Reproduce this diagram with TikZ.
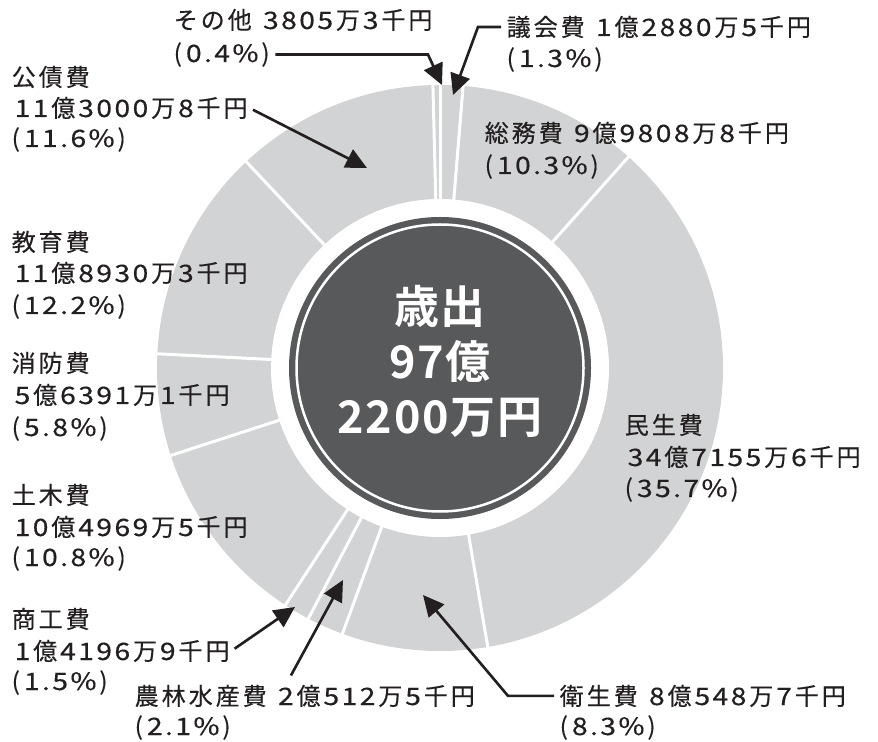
\documentclass[tikz,border=0pt]{standalone}
\usepackage{fontspec}
\usetikzlibrary{arrows.meta}
\newfontfamily\jpfont[LetterSpace=12.5, FakeBold=0.4]{Noto Sans CJK JP}
\newfontfamily\jpbold[LetterSpace=4]{Noto Sans CJK JP Bold}
\newfontfamily\numfont[LetterSpace=10, FakeStretch=1.18, FakeBold=0.4]{Noto Sans CJK JP}
\newcommand{\dg}[1]{\kern0.12em{\numfont#1}\kern0.12em}
\newcommand{\pct}[1]{(\hspace{0.05em}\dg{#1\%})}
\definecolor{ringgray}{HTML}{D1D3D4}
\definecolor{coredark}{HTML}{58595B}
\definecolor{ink}{HTML}{231F20}
\tikzset{
  lbl/.style={anchor=base west, inner sep=0pt, outer sep=1pt, text=ink,
    font=\jpfont\fontsize{13.66pt}{17pt}\selectfont},
  arr/.style={draw=ink, line width=1.5pt, shorten <=0.08cm,
    -{Triangle[length=0.42cm,width=0.4cm]}},
  sepline/.style={draw=white, line width=0.06cm},
}

\begin{document}
\begin{tikzpicture}[x=0.02cm, y=-0.02cm]
  \useasboundingbox (0,0) rectangle (878,742);
  % ring and separators
  \fill[ringgray] (440,368) circle (283);
  \fill[white] (440,368) circle (169);
  \foreach \p in {0, 1.3, 11.6, 47.3, 55.6, 57.7, 59.2, 70, 75.8, 88, 99.6}
    \draw[sepline, shift={(440,368)}] ({-90+3.6*\p}:166) -- ({-90+3.6*\p}:286);
  % centre
  \fill[coredark] (440,368) circle (151);
  \draw[white, line width=0.05cm] (440,368) circle (143.5);
  \node[align=center, text=white, inner sep=0pt,
    font=\jpbold\fontsize{25.6pt}{31.3pt}\selectfont]
    (total) at (440,361) {歳出\\97億\\2200万円};
  % labels
  \node[lbl] (sonota1) at (172,29) {その他 \dg{3805}万\dg{3}千円};
  \node[lbl] (sonota2) at (172,62) {\pct{0.4}};
  \node[lbl] (gikai1) at (505,36) {議会費 \dg{1}億\dg{2880}万\dg{5}千円};
  \node[lbl] (gikai2) at (505,67) {\pct{1.3}};
  \node[lbl] (somu1) at (483,142) {総務費 \dg{9}億\dg{9808}万\dg{8}千円};
  \node[lbl] (somu2) at (483,174) {\pct{10.3}};
  \node[lbl] (minsei1) at (623,434) {民生費};
  \node[lbl] (minsei2) at (623,466) {\dg{34}億\dg{7155}万\dg{6}千円};
  \node[lbl] (minsei3) at (623,497) {\pct{35.7}};
  \node[lbl] (eisei1) at (558,705) {衛生費 \dg{8}億\dg{548}万\dg{7}千円};
  \node[lbl] (eisei2) at (558,735) {\pct{8.3}};
  \node[lbl] (nourin1) at (133,705) {農林水産費 \dg{2}億\dg{512}万\dg{5}千円};
  \node[lbl] (nourin2) at (133,735) {\pct{2.1}};
  \node[lbl] (kosai1) at (10,86) {公債費};
  \node[lbl] (kosai2) at (10,117) {\dg{11}億\dg{3000}万\dg{8}千円};
  \node[lbl] (kosai3) at (10,147) {\pct{11.6}};
  \node[lbl] (kyoiku1) at (10,251) {教育費};
  \node[lbl] (kyoiku2) at (10,282) {\dg{11}億\dg{8930}万\dg{3}千円};
  \node[lbl] (kyoiku3) at (10,314) {\pct{12.2}};
  \node[lbl] (shobo1) at (10,372) {消防費};
  \node[lbl] (shobo2) at (10,404) {\dg{5}億\dg{6391}万\dg{1}千円};
  \node[lbl] (shobo3) at (10,436) {\pct{5.8}};
  \node[lbl] (doboku1) at (10,504) {土木費};
  \node[lbl] (doboku2) at (10,536) {\dg{10}億\dg{4969}万\dg{5}千円};
  \node[lbl] (doboku3) at (10,566) {\pct{10.8}};
  \node[lbl] (shoko1) at (10,628) {商工費};
  \node[lbl] (shoko2) at (10,660) {\dg{1}億\dg{4196}万\dg{9}千円};
  \node[lbl] (shoko3) at (10,690) {\pct{1.5}};
  % arrows
  \coordinate (sonotabend) at (428,0);
  \coordinate (sonotatip) at (442,85);
  \coordinate (gikaibend) at (478,0);
  \coordinate (gikaitip) at (453,95);
  \coordinate (eiseibend) at (508,0);
  \coordinate (eiseitip) at (423,595);
  \coordinate (nourinfoot) at (289,679);
  \coordinate (nourintip) at (343,580);
  \coordinate (kosaitip) at (367,168);
  \coordinate (shokotip) at (295,607);
  \draw[arr] (sonota2.east) -- (sonota2.east -| sonotabend) -- (sonotatip);
  \draw[arr] (gikai1.west) -- (gikai1.west -| gikaibend) -- (gikaitip);
  \draw[arr] (eisei1.west) -- (eisei1.west -| eiseibend) -- (eiseitip);
  \draw[arr] (nourinfoot) -- (nourintip);
  \draw[arr] (kosai2.east) -- (kosaitip);
  \draw[arr] (shoko2.east) -- (shokotip);
\end{tikzpicture}
\end{document}
